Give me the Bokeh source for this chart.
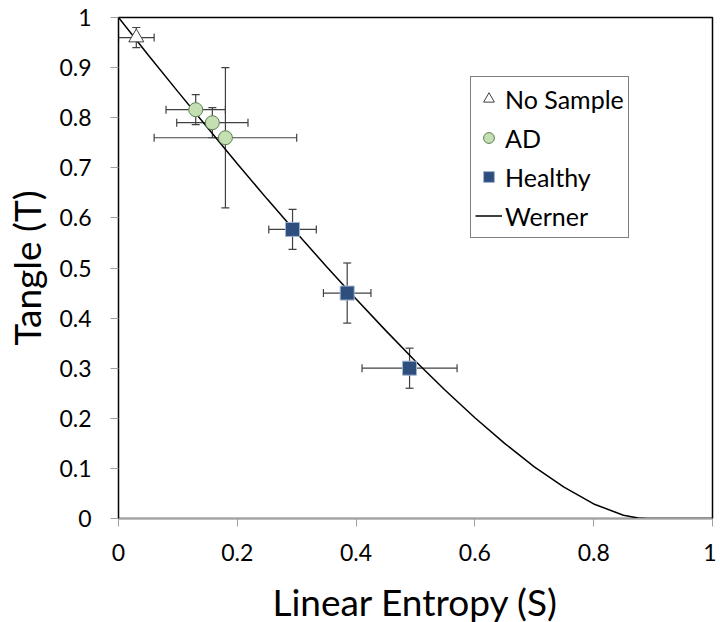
from bokeh.plotting import figure
from bokeh.models import ColumnDataSource, Whisker, Legend, LegendItem, FixedTicker, TeeHead
from bokeh.embed import file_html
from bokeh.resources import INLINE

# ---- data ----
nosample_S = [0.03]
nosample_T = [0.96]
nosample_Serr = [0.03]
nosample_Terr = [0.02]

ad_S = [0.13, 0.158, 0.18]
ad_T = [0.816, 0.79, 0.76]
ad_Serr = [0.05, 0.06, 0.12]
ad_Terr = [0.03, 0.03, 0.14]

healthy_S = [0.293, 0.385, 0.49]
healthy_T = [0.577, 0.45, 0.30]
healthy_Serr = [0.04, 0.04, 0.08]
healthy_Terr = [0.04, 0.06, 0.04]

werner_S = [0, 0.05, 0.1, 0.15, 0.2, 0.25, 0.3, 0.35, 0.4, 0.45, 0.5, 0.55,
            0.6, 0.65, 0.7, 0.75, 0.8, 0.85, 0.875, 0.889, 1.0]
werner_T = [1.0, 0.925, 0.852, 0.78, 0.708, 0.638, 0.57, 0.503, 0.438, 0.375,
            0.314, 0.256, 0.201, 0.15, 0.103, 0.0625, 0.029, 0.0066, 0.0009, 0.0, 0.0]

x_ticks = [0, 0.2, 0.4, 0.6, 0.8, 1.0]
y_ticks = [0, 0.1, 0.2, 0.3, 0.4, 0.5, 0.6, 0.7, 0.8, 0.9, 1.0]

FONT = "Lato"

p = figure(frame_width=594, frame_height=501, x_range=(0, 1), y_range=(0, 1),
           output_backend="svg", toolbar_location=None,
           min_border_left=118, min_border_right=4, min_border_top=17,
           min_border_bottom=100, background_fill_color="white",
           border_fill_color="white")
p.grid.visible = False
p.outline_line_color = "black"
p.outline_line_width = 1.5

def mk(S, T, Se, Te):
    return ColumnDataSource(dict(
        S=S, T=T,
        sl=[s - e for s, e in zip(S, Se)], su=[s + e for s, e in zip(S, Se)],
        tl=[t - e for t, e in zip(T, Te)], tu=[t + e for t, e in zip(T, Te)]))

src_ns = mk(nosample_S, nosample_T, nosample_Serr, nosample_Terr)
src_ad = mk(ad_S, ad_T, ad_Serr, ad_Terr)
src_h = mk(healthy_S, healthy_T, healthy_Serr, healthy_Terr)

# Werner curve
wl = p.line(werner_S, werner_T, line_color="black", line_width=1.5)

# error bars
for src in (src_ns, src_ad, src_h):
    for dim, base, lo, hi in (("width", "T", "sl", "su"), ("height", "S", "tl", "tu")):
        w = Whisker(source=src, base=base, lower=lo, upper=hi, dimension=dim,
                    line_color="#404040", line_width=1.2,
                    lower_head=TeeHead(size=8, line_color="#404040", line_width=1.2),
                    upper_head=TeeHead(size=8, line_color="#404040", line_width=1.2))
        p.add_layout(w)

ns = p.scatter("S", "T", source=src_ns, marker="triangle", size=15,
               fill_color="white", line_color="#404040", line_width=1)
ad = p.scatter("S", "T", source=src_ad, marker="circle", size=14,
               fill_color="#c4e0b2", line_color="#5f7f52", line_width=1)
h = p.scatter("S", "T", source=src_h, marker="square", size=14,
              fill_color="#2e4e7e", line_color="#9fb3cf", line_width=1)

# axes
for ax in (p.xaxis[0], p.yaxis[0]):
    ax.major_label_text_font = FONT
    ax.major_label_text_font_size = "23px"
    ax.major_label_text_color = "black"
    ax.axis_label_text_font = FONT
    ax.axis_label_text_font_size = "37px"
    ax.axis_label_text_font_style = "normal"
    ax.axis_label_text_color = "black"
    ax.minor_tick_line_color = None
    ax.major_tick_in = 0
    ax.major_tick_out = 8
    ax.major_tick_line_color = "#a0a0a0"

p.xaxis.ticker = FixedTicker(ticks=x_ticks)
p.yaxis.ticker = FixedTicker(ticks=y_ticks)
p.xaxis.major_label_overrides = {0: "0", 0.2: "0.2", 0.4: "0.4", 0.6: "0.6", 0.8: "0.8", 1.0: "1"}
p.yaxis.major_label_overrides = {0: "0", 1.0: "1"}
p.xaxis.axis_label = "Linear Entropy (S)"
p.yaxis.axis_label = "Tangle (T)"
p.xaxis.axis_line_color = "#a0a0a0"
p.yaxis.axis_line_color = "black"
p.xaxis.major_label_standoff = 17
p.yaxis.major_label_standoff = 19
p.xaxis.axis_label_standoff = 15
p.yaxis.axis_label_standoff = 7

legend = Legend(items=[
    LegendItem(label="No Sample", renderers=[ns]),
    LegendItem(label="AD", renderers=[ad]),
    LegendItem(label="Healthy", renderers=[h]),
    LegendItem(label="Werner", renderers=[wl]),
], location=(352, 280))
legend.label_text_font = FONT
legend.label_text_font_size = "25px"
legend.label_text_color = "black"
legend.border_line_color = "black"
legend.border_line_width = 1
legend.background_fill_alpha = 1
legend.glyph_width = 27
legend.glyph_height = 35
legend.label_standoff = 3
legend.spacing = 4
legend.padding = 4
legend.margin = 0
legend.label_height = 35
p.add_layout(legend)

open("out.html", "w").write(file_html(p, INLINE))
